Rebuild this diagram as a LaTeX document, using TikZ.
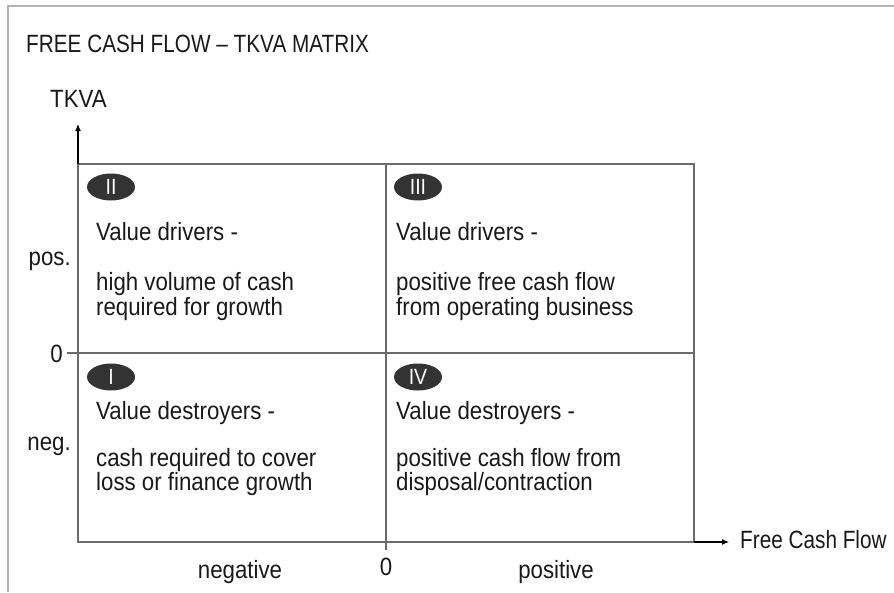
\documentclass[tikz,border=0pt]{standalone}
\usepackage{fontspec}
\setmainfont[FakeStretch=0.89]{Liberation Sans}
\newfontfamily\narrowfont[FakeStretch=0.83]{Liberation Sans}
\usetikzlibrary{arrows.meta,shapes.geometric}

\begin{document}
\begin{tikzpicture}[x=1pt,y=-1pt,
  lbl/.style={inner sep=0pt, anchor=base west, font=\fontsize{25}{30}\selectfont, text=black!90},
  narrow/.style={font=\fontsize{25}{30}\narrowfont},
  badge/.style={ellipse, fill=black!80, minimum width=48pt, minimum height=27pt,
    inner sep=0pt, text=white, font=\fontsize{22}{24}\selectfont},
  gridline/.style={draw=black!58, line width=1.4pt},
  axisline/.style={draw=black, line width=1.2pt, -{Latex[length=7pt,width=6pt]}},
  frameline/.style={draw=black!30, line width=2pt}
]
\useasboundingbox (0,0) rectangle (894,592);

% outer frame (left and top edges)
\draw[frameline] (8,592) -- (8,6) -- (894,6);

% title and axis name
\node[lbl, narrow] (title) at (26,52) {FREE CASH FLOW \textendash{} TKVA MATRIX};
\node[lbl] (ylab) at (50,107) {TKVA};

% matrix corners and axis points
\coordinate (BL) at (78,542);
\coordinate (TL) at (78,164);
\coordinate (TR) at (694,164);
\coordinate (BR) at (694,542);
\coordinate (ML) at (78,353);
\coordinate (MR) at (694,353);
\coordinate (MT) at (386,164);
\coordinate (MB) at (386,550);
\coordinate (Ytick) at (67,353);
\coordinate (Ytip) at (78,124);
\coordinate (Xtip) at (729,542);

% the 2x2 matrix
\draw[gridline] (BL) rectangle (TR);
\draw[gridline] (Ytick) -- (MR);
\draw[gridline] (MT) -- (MB);

% axes
\draw[axisline] (TL) -- (Ytip);
\draw[axisline] (BR) -- (Xtip);

% axis labels
\node[lbl, narrow] (xlab) at (740,548) {Free Cash Flow};
\node[lbl, anchor=base east] (pos) at (71,265) {pos.};
\node[lbl, anchor=base east] (neg) at (71,450) {neg.};
\node[lbl, anchor=base east] (yzero) at (63,362) {0};
\node[lbl, anchor=base] (xzero) at (386,575) {0};
\node[lbl, anchor=base] (negative) at (240,578) {negative};
\node[lbl, anchor=base] (positive) at (556,578) {positive};

% quadrant badges
\node[badge] (qII) at (111,187) {II};
\node[badge] (qIII) at (418,187) {III};
\node[badge] (qI) at (111,377) {I};
\node[badge] (qIV) at (418,377) {IV};

% quadrant II
\node[lbl] (tII) at (96,240) {Value drivers -};
\node[lbl] (bIIa) at (96,290) {high volume of cash};
\node[lbl] (bIIb) at (96,315) {required for growth};

% quadrant III
\node[lbl] (tIII) at (396,240) {Value drivers -};
\node[lbl] (bIIIa) at (396,290) {positive free cash flow};
\node[lbl] (bIIIb) at (396,315) {from operating business};

% quadrant I
\node[lbl] (tI) at (96,419) {Value destroyers -};
\node[lbl] (bIa) at (96,466) {cash required to cover};
\node[lbl] (bIb) at (96,490) {loss or finance growth};

% quadrant IV
\node[lbl] (tIV) at (396,419) {Value destroyers -};
\node[lbl] (bIVa) at (396,466) {positive cash flow from};
\node[lbl] (bIVb) at (396,490) {disposal/contraction};
\end{tikzpicture}
\end{document}
